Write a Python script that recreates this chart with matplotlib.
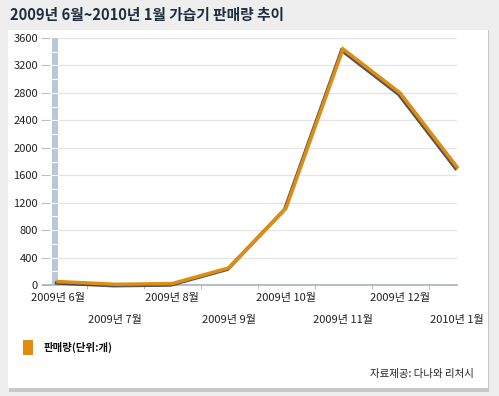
import matplotlib.pyplot as plt
import matplotlib.patheffects as pe
from matplotlib.patches import Rectangle
import matplotlib.transforms as mtransforms

plt.rcParams['font.family'] = ['Noto Sans CJK KR', 'DejaVu Sans']

# data
months = ['2009년 6월', '2009년 7월', '2009년 8월', '2009년 9월',
          '2009년 10월', '2009년 11월', '2009년 12월', '2010년 1월']
sales = [50, 10, 20, 250, 1120, 3440, 2800, 1720]
yticks = [0, 400, 800, 1200, 1600, 2000, 2400, 2800, 3200, 3600]

title = '2009년 6월~2010년 1월 가습기 판매량 추이'
legend_label = '판매량(단위:개)'
source = '자료제공: 다나와 리처시'

W, H = 499, 396
line_color = '#e08c10'

fig = plt.figure(figsize=(W / 100, H / 100), dpi=100)
fig.patch.set_facecolor('#eeeeee')

# white panel with a soft shadow under it
fig.patches.append(Rectangle((9 / W, 1 - 392 / H), 480 / W, 362 / H,
                             transform=fig.transFigure, facecolor='#c8c8c8',
                             edgecolor='none', zorder=-2))
fig.patches.append(Rectangle((8 / W, 1 - 388 / H), 480 / W, 358 / H,
                             transform=fig.transFigure, facecolor='white',
                             edgecolor='none', zorder=-1))

fig.text(10 / W, 1 - 15 / H, title, fontsize=10.6, fontweight='bold',
         color='#1e2d3c', va='center', ha='left')

# plot area in pixels
x0, x1, y0, y1 = 58, 457, 285, 38
ax = fig.add_axes([x0 / W, 1 - y0 / H, (x1 - x0) / W, (y0 - y1) / H])
ax.set_zorder(5)
ax.set_facecolor('none')
ax.set_xlim(0, len(months) - 1)
ax.set_ylim(0, 3600)

for s in ['top', 'right', 'left', 'bottom']:
    ax.spines[s].set_visible(False)

# grid lines
for v in yticks[1:]:
    ax.axhline(v, color='#e4e4e4', lw=0.9, zorder=1)

# bottom axis line, extending left past the bar
trans_ax_data = mtransforms.blended_transform_factory(ax.transAxes, ax.transData)
ax.plot([-15 / (x1 - x0), 1], [0, 0], transform=trans_ax_data, color='#a8b0b8',
        lw=1.2, clip_on=False, zorder=2)

# blue-gray vertical bar on the y axis
bar_w = 6 / (x1 - x0)
ax.add_patch(Rectangle((-bar_w, 0), bar_w, 3600, transform=trans_ax_data,
                       facecolor='#b9c8d8', edgecolor='none', clip_on=False, zorder=2))
for v in range(200, 3600, 200):
    ax.plot([-bar_w, 0], [v, v], transform=trans_ax_data, color='white', lw=0.8,
            clip_on=False, zorder=3)

# y ticks: small gray dashes left of the bar
ax.set_yticks(yticks)
ax.spines['left'].set_position(('outward', 6))
ax.tick_params(axis='y', length=6.5, width=0.8, color='#c0c0c0', pad=2,
               labelsize=8, labelcolor='#222222')

# x ticks at boundaries between months, labels staggered in two rows
ax.set_xticks([i + 0.5 for i in range(len(months) - 1)])
ax.set_xticklabels([])
ax.tick_params(axis='x', length=3, width=0.6, color='#b0b0b0', direction='out')
trans_data_ax = mtransforms.blended_transform_factory(ax.transData, ax.transAxes)
for i, m in enumerate(months):
    ypix = 298 if i % 2 == 0 else 320
    ax.text(i, -(ypix - y0) / (y0 - y1), m, transform=trans_data_ax, ha='center',
            va='center', fontsize=8, color='#222222', clip_on=False)

ax.plot(range(len(months)), sales, color=line_color, lw=2.5, solid_joinstyle='miter',
        zorder=5, clip_on=False,
        path_effects=[pe.SimpleLineShadow(offset=(-1, -1), shadow_color='#2a2a2a',
                                          alpha=0.8),
                      pe.Normal()])

# legend
fig.patches.append(Rectangle((23 / W, 1 - 355 / H), 10 / W, 15 / H,
                             transform=fig.transFigure, facecolor=line_color,
                             edgecolor='none'))
fig.text(44 / W, 1 - 347 / H, legend_label, fontsize=7.5, fontweight='bold',
         color='#111111', va='center', ha='left')

fig.text(474 / W, 1 - 374 / H, source, fontsize=7.5, color='#222222',
         va='center', ha='right')

fig.savefig('out.png', dpi=100, facecolor=fig.get_facecolor())
